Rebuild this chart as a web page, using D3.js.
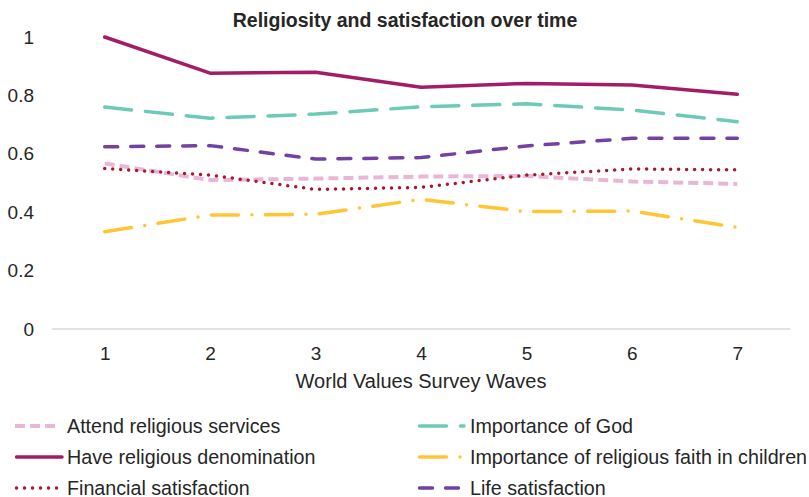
<!DOCTYPE html>
<html><head><meta charset="utf-8">
<script src="https://cdn.jsdelivr.net/npm/d3@7"></script>
<style>body{margin:0;background:#fff}svg{display:block;font-family:"Liberation Sans",Arial,sans-serif}</style>
</head><body>
<script>
const waves = [1,2,3,4,5,6,7];
const yTicks = [0,0.2,0.4,0.6,0.8,1];
const seriesNames = ["Attend religious services","Importance of God","Have religious denomination","Importance of religious faith in children","Financial satisfaction","Life satisfaction"];
const attend = [0.567,0.510,0.515,0.522,0.524,0.505,0.497];
const godImp = [0.760,0.722,0.736,0.761,0.771,0.750,0.710];
const denom = [1.0,0.876,0.879,0.828,0.841,0.836,0.804];
const faithKids = [0.333,0.390,0.393,0.444,0.402,0.404,0.348];
const financial = [0.550,0.527,0.478,0.485,0.527,0.548,0.545];
const life = [0.624,0.628,0.582,0.587,0.627,0.653,0.653];

const styles = [
  {color:"#EAB6D6", dash:"10,5", width:4, cap:"butt"},
  {color:"#6CCAB6", dash:"27,14", width:3.5, cap:"round"},
  {color:"#A21D66", dash:null, width:3.5, cap:"round"},
  {color:"#FFC533", dash:"27,13.5,0,13.5", width:3.5, cap:"round"},
  {color:"#A8182C", dash:"0,8", width:3.5, cap:"round"},
  {color:"#7242A0", dash:"13,13", width:3.5, cap:"round"}
];
const data = [attend, godImp, denom, faithKids, financial, life];

const W=809,H=497;
const svg=d3.select("body").append("svg").attr("width",W).attr("height",H);
const x=d3.scalePoint().domain(waves).range([52,790]).padding(0.5);
const y=d3.scaleLinear().domain([0,1]).range([329,37]);
const txt="#262626";
const FF="Liberation Sans, Arial, sans-serif";

svg.append("text").attr("x",405).attr("y",27).attr("text-anchor","middle")
  .attr("font-weight","bold").attr("font-size",19.5).attr("fill",txt)
  .text("Religiosity and satisfaction over time");

const ya=svg.append("g").attr("transform","translate(34,0)")
  .call(d3.axisLeft(y).tickValues(yTicks).tickSize(0).tickPadding(0).tickFormat(d3.format("~g")));
ya.select(".domain").remove();
ya.selectAll("text").attr("font-size",19).attr("fill",txt).attr("font-family",FF);

svg.append("line").attr("x1",52).attr("x2",790).attr("y1",y(0)).attr("y2",y(0)).attr("stroke","#D9D9D9").attr("stroke-width",1.3);

const xa=svg.append("g").attr("transform",`translate(0,${y(0)})`)
  .call(d3.axisBottom(x).tickSize(0).tickPadding(17.5));
xa.select(".domain").remove();
xa.selectAll("text").attr("font-size",19).attr("fill",txt).attr("font-family",FF);

svg.append("text").attr("x",421).attr("y",388).attr("text-anchor","middle")
  .attr("font-size",20).attr("fill",txt).text("World Values Survey Waves");

const line=d3.line().x((d,i)=>x(waves[i])).y(d=>y(d));
const order=[0,4,3,5,1,2];
order.forEach(k=>{
  const s=styles[k];
  svg.append("path").attr("d",line(data[k])).attr("fill","none")
    .attr("stroke",s.color).attr("stroke-width",s.width)
    .attr("stroke-dasharray",s.dash).attr("stroke-linecap",s.cap).attr("stroke-linejoin","round");
});

const legPos=[[15,426],[418,426],[15,457],[418,457],[15,488],[418,488]];
const legLen=[42,46,47,46,45,44];
seriesNames.forEach((name,i)=>{
  const [lx,ly]=legPos[i];
  const s=styles[i];
  const g=svg.append("g");
  g.append("line").attr("x1",lx+(s.cap==="round"?1.5:0)).attr("x2",lx+legLen[i]).attr("y1",ly).attr("y2",ly)
    .attr("stroke",s.color).attr("stroke-width",s.width).attr("stroke-dasharray",s.dash).attr("stroke-linecap",s.cap);
  g.append("text").attr("x",lx+52).attr("y",ly).attr("dy","0.35em").attr("font-size",19.7).attr("fill",txt).text(name);
});
</script>
</body></html>
